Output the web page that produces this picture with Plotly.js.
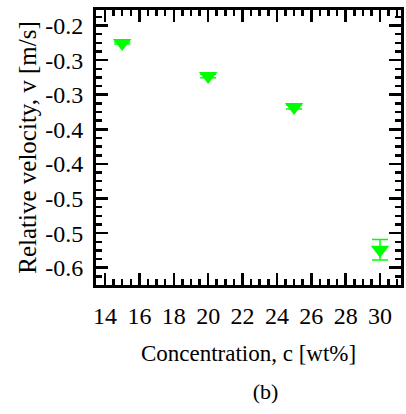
<!DOCTYPE html>
<html>
<head>
<meta charset="utf-8">
<script src="https://cdn.plot.ly/plotly-3.0.1.min.js"></script>
<style>
  html, body { margin: 0; padding: 0; background: #ffffff; }
  #chart { width: 406px; height: 414px; }
</style>
</head>
<body>
<div id="chart"></div>
<script>
// ---- data ----
const concentration = [15, 20, 25, 30];                     // c [wt%]
const velocity      = [-0.2253, -0.2730, -0.3178, -0.5240]; // v [m/s]
const velocityErr   = [0.0015, 0.0025, 0.0030, 0.0149];

const xTickVals = [14, 16, 18, 20, 22, 24, 26, 28, 30];
const xTickText = ['14', '16', '18', '20', '22', '24', '26', '28', '30'];
const yTickVals = [-0.20, -0.25, -0.30, -0.35, -0.40, -0.45, -0.50, -0.55];
const yTickText = ['-0.2', '-0.3', '-0.3', '-0.4', '-0.4', '-0.5', '-0.5', '-0.6'];

const xTitle = 'Concentration, c [wt%]';
const yTitle = 'Relative velocity, v [m/s]';
const panelLabel = '(b)';

const FONT = 'Liberation Serif';
const GREEN = '#00ff00';

function aliasFor(vals, texts) {
  const m = {};
  vals.forEach(function (v, i) {
    m[(v < 0 ? '\u2212' : '') + String(Math.abs(v))] = texts[i];
  });
  return m;
}

const trace = {
  x: concentration, y: velocity, type: 'scatter', mode: 'markers',
  marker: { symbol: 'triangle-down', size: 16, color: GREEN, line: { width: 0 } },
  error_y: { type: 'data', array: velocityErr, visible: true, color: GREEN, thickness: 1.5, width: 8 },
  showlegend: false
};

function axisBase() {
  return {
    showgrid: false, zeroline: false, showline: true, linecolor: '#000000', linewidth: 3, mirror: 'allticks',
    ticks: 'inside', ticklen: 12, tickwidth: 2.5, tickcolor: '#000000',
    tickfont: { family: FONT, size: 24, color: '#000000' }, tickmode: 'linear'
  };
}

const xaxis = Object.assign(axisBase(), {
  range: [13.476, 31.22],
  tick0: xTickVals[0], dtick: xTickVals[1] - xTickVals[0],
  labelalias: aliasFor(xTickVals, xTickText),
  ticklabelstandoff: 7,
  title: { text: xTitle, font: { family: FONT, size: 23, color: '#000000' }, standoff: 18 },
  minor: { tickmode: 'linear', tick0: 14, dtick: 0.5, ticks: 'inside', ticklen: 6, tickwidth: 2.5, tickcolor: '#000000', showgrid: false }
});

const yaxis = Object.assign(axisBase(), {
  range: [-0.575, -0.1776],
  tick0: yTickVals[0], dtick: 0.05,
  labelalias: aliasFor(yTickVals, yTickText),
  ticklabelstandoff: 5,
  title: { text: yTitle, font: { family: FONT, size: 25, color: '#000000' }, standoff: 2 },
  minor: { tickmode: 'linear', tick0: -0.2, dtick: 0.0125, ticks: 'inside', ticklen: 6, tickwidth: 2.5, tickcolor: '#000000', showgrid: false }
});

const layout = {
  width: 406, height: 414,
  margin: { l: 96, r: 5, t: 10, b: 129, pad: 0 },
  font: { family: FONT, color: '#000000' },
  title: { text: panelLabel, font: { family: FONT, size: 22, color: '#000000' },
           xref: 'container', x: 0.654, xanchor: 'center', yref: 'container', y: 0.0556, yanchor: 'middle' },
  xaxis: xaxis, yaxis: yaxis
};

Plotly.newPlot('chart', [trace], layout, { displayModeBar: false, staticPlot: true });
</script>
</body>
</html>
